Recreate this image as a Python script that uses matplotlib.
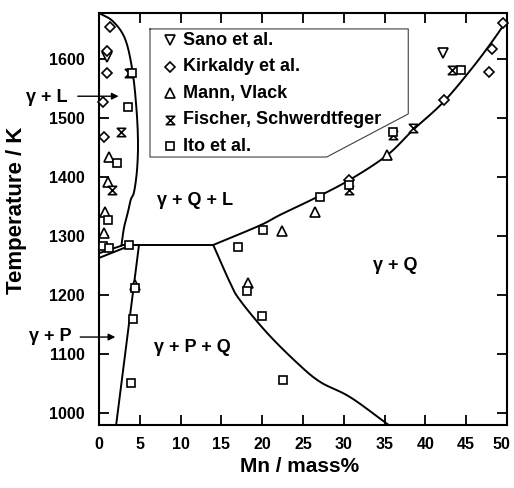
import matplotlib
matplotlib.use("Agg")
import matplotlib.pyplot as plt
from matplotlib.path import Path
from matplotlib.transforms import ScaledTranslation
import numpy as np

plt.rcParams['font.family'] = ['Liberation Sans', 'DejaVu Sans']
plt.rcParams['font.weight'] = 'bold'

# ---- data ----
series_names = ["Sano et al.", "Kirkaldy et al.", "Mann, Vlack",
                "Fischer, Schwerdtfeger", "Ito et al."]

sano_x = [1.0, 42.2]
sano_y = [1604, 1610]

kirkaldy_x = [1.4, 1.0, 1.0, 0.5, 0.6, 30.6, 42.3, 48.2, 47.8, 49.5]
kirkaldy_y = [1654, 1613, 1576, 1527, 1468, 1395, 1530, 1617, 1578, 1661]

mann_x = [1.2, 1.1, 0.7, 0.6, 4.4, 18.3, 22.4, 26.5, 35.3]
mann_y = [1434, 1392, 1341, 1305, 1218, 1221, 1308, 1341, 1437]

fischer_x = [3.7, 2.7, 1.6, 30.6, 36.0, 38.5, 43.3]
fischer_y = [1577, 1476, 1378, 1378, 1472, 1483, 1581]

ito_x = [4.1, 3.6, 2.2, 1.1, 0.5, 1.2, 3.7, 4.4, 4.2, 3.9, 17.0, 18.1,
         20.0, 22.5, 20.1, 27.1, 30.6, 36.0, 44.4]
ito_y = [1577, 1519, 1424, 1327, 1283, 1280, 1285, 1212, 1159, 1052, 1281,
         1207, 1164, 1057, 1311, 1366, 1387, 1476, 1581]

# phase boundaries
liq_x = [0.0, 1.7, 3.2, 4.1, 4.6, 4.78, 4.66, 4.3, 3.9, 3.55, 3.06, 2.75]
liq_y = [1678, 1664, 1634, 1580, 1514, 1458, 1412, 1375, 1362, 1341, 1314, 1284]

sol1_x = [0.0, 2.8]
sol1_y = [1271, 1284]
sol2_x = [0.0, 4.0]
sol2_y = [1263, 1285]

eut_x = [2.8, 4.9, 14.0]
eut_y = [1285, 1285, 1285]

gp_x = [4.9, 2.1]
gp_y = [1285, 980]

upper_x = [14.0, 19.7, 22.2, 26.7, 30.8, 35.3, 38.5, 42.2, 45.8, 48.3, 50.0]
upper_y = [1285, 1318, 1336, 1366, 1396, 1437, 1480, 1527, 1586, 1632, 1666]

lower_x = [14.0, 16.1, 17.3, 20.6, 24.3, 27.1, 30.8, 35.5]
lower_y = [1285, 1220, 1191, 1136, 1085, 1053, 1027, 980]

x_ticks = [0, 5, 10, 15, 20, 25, 30, 35, 40, 45, 50]
y_ticks = [1000, 1100, 1200, 1300, 1400, 1500, 1600]


def smooth(xs, ys, n=12):
    """Catmull-Rom curve through the given points (drawing only)."""
    p = np.column_stack([xs, ys]).astype(float)
    if len(p) < 3:
        return p[:, 0], p[:, 1]
    ext = np.vstack([2 * p[0] - p[1], p, 2 * p[-1] - p[-2]])
    out = []
    t = np.linspace(0, 1, n, endpoint=False)[:, None]
    for i in range(1, len(ext) - 2):
        p0, p1, p2, p3 = ext[i - 1], ext[i], ext[i + 1], ext[i + 2]
        seg = 0.5 * ((2 * p1) + (-p0 + p2) * t +
                     (2 * p0 - 5 * p1 + 4 * p2 - p3) * t ** 2 +
                     (-p0 + 3 * p1 - 3 * p2 + p3) * t ** 3)
        out.append(seg)
    out.append(p[-1][None, :])
    out = np.vstack(out)
    return out[:, 0], out[:, 1]


# ---- figure ----
fig = plt.figure(figsize=(5.14, 4.88), dpi=100)
ax = fig.add_axes([99/514, 63/488, 408/514, 412/488])

ax.set_xlim(0, 50)
ax.set_ylim(980, 1678)

lw = 1.4
for xs, ys in [(liq_x, liq_y), (upper_x, upper_y), (lower_x, lower_y)]:
    sx, sy = smooth(xs, ys)
    ax.plot(sx, sy, color='black', lw=lw, solid_capstyle='round',
            solid_joinstyle='round', zorder=2)
for xs, ys in [(sol1_x, sol1_y), (sol2_x, sol2_y), (eut_x, eut_y),
               (gp_x, gp_y)]:
    ax.plot(xs, ys, color='black', lw=lw, solid_capstyle='round',
            solid_joinstyle='round', zorder=2)

hourglass = Path([(-1, 1), (1, 1), (-1, -1), (1, -1), (-1, 1)],
                 [Path.MOVETO, Path.LINETO, Path.LINETO, Path.LINETO,
                  Path.CLOSEPOLY])

styles = [
    dict(marker='v', ms=6.5),
    dict(marker='D', ms=5.0),
    dict(marker='^', ms=6.5),
    dict(marker=hourglass, ms=6.0),
    dict(marker='s', ms=6.0),
]
data = [(sano_x, sano_y), (kirkaldy_x, kirkaldy_y), (mann_x, mann_y),
        (fischer_x, fischer_y), (ito_x, ito_y)]

for (xs, ys), st in zip(data, styles):
    ax.plot(xs, ys, ls='none', mfc='white', mec='black', mew=1.2,
            zorder=3, clip_on=False, **st)

# legend box with cut corner
box_x = [6.25, 37.9, 37.9, 27.9, 6.25, 6.25]
box_y = [1651, 1651, 1507, 1434, 1434, 1651]
ax.plot(box_x, box_y, color='0.25', lw=0.8, zorder=2)

leg_y = [1632, 1587, 1542, 1497, 1452]
for name, st, yy in zip(series_names, styles, leg_y):
    ax.plot([8.7], [yy], ls='none', mfc='white', mec='black', mew=1.2, **st)
    ax.text(10.3, yy, name, fontsize=13, fontweight='bold',
            ha='left', va='center')

# phase labels
ax.text(11.8, 1361, "γ + Q + L", fontsize=13, fontweight='bold', ha='center', va='center')
ax.text(36.3, 1251, "γ + Q", fontsize=13, fontweight='bold', ha='center', va='center')
ax.text(11.5, 1112, "γ + P + Q", fontsize=13, fontweight='bold', ha='center', va='center')

# outside labels with arrows
ax.text(-3.8, 1534, "γ + L", fontsize=13, fontweight='bold', ha='right',
        va='center', clip_on=False)
ax.annotate('', xy=(2.4, 1537), xytext=(-2.6, 1537),
            arrowprops=dict(arrowstyle='-|>', lw=1.0, color='black',
                            mutation_scale=10, shrinkA=0, shrinkB=0),
            annotation_clip=False)
ax.text(-3.3, 1130, "γ + P", fontsize=13, fontweight='bold', ha='right',
        va='center', clip_on=False)
ax.annotate('', xy=(2.0, 1129), xytext=(-2.3, 1129),
            arrowprops=dict(arrowstyle='-|>', lw=1.0, color='black',
                            mutation_scale=10, shrinkA=0, shrinkB=0),
            annotation_clip=False)

ax.set_xticks(x_ticks)
ax.set_yticks(y_ticks)
ax.tick_params(direction='in', length=7, width=1.3, top=True, right=True,
               labelsize=11.5)
ax.tick_params(axis='x', pad=8.5)
ax.tick_params(axis='y', pad=10)
for lab in ax.get_xticklabels() + ax.get_yticklabels():
    lab.set_fontweight('bold')
for sp in ax.spines.values():
    sp.set_linewidth(1.5)

# nudge the last x tick label so it stays inside the picture
last = ax.get_xticklabels()[-1]
last.set_transform(last.get_transform() +
                   ScaledTranslation(-4 / 72, 0, fig.dpi_scale_trans))

fig.text(300/514, 1 - 466/488, "Mn / mass%", fontsize=15, fontweight='bold',
         ha='center', va='center')
fig.text(17/514, 1 - 210/488, "Temperature / K", fontsize=16, fontweight='bold',
         ha='center', va='center', rotation=90)

fig.savefig("out.png", dpi=100)
